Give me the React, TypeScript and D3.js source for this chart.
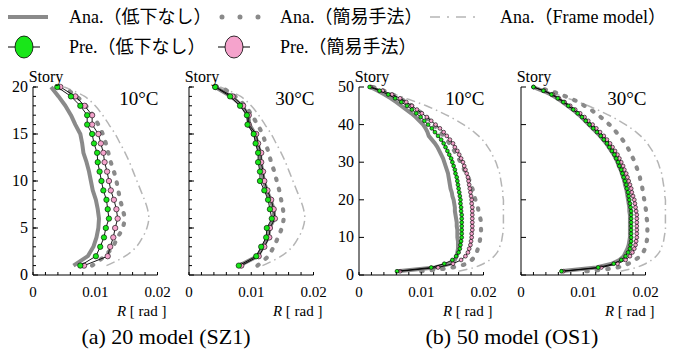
import React, {useEffect, useRef} from "react";
import * as d3 from "d3";

// story numbers
const stories20 = [1, 2, 3, 4, 5, 6, 7, 8, 9, 10, 11, 12, 13, 14, 15, 16, 17, 18, 19, 20];
const stories50 = [1, 2, 3, 4, 5, 6, 7, 8, 9, 10, 11, 12, 13, 14, 15, 16, 17, 18, 19, 20,
    21, 22, 23, 24, 25, 26, 27, 28, 29, 30, 31, 32, 33, 34, 35, 36, 37, 38, 39, 40,
    41, 42, 43, 44, 45, 46, 47, 48, 49, 50];

// ---- 20 model (SZ1) ----
const sz1FrameAna = [0.0118, 0.0148, 0.0166, 0.0176, 0.0183, 0.0186, 0.0184, 0.0179, 0.0173, 0.0167,
    0.0161, 0.0155, 0.0148, 0.0140, 0.0132, 0.0122, 0.0112, 0.0100, 0.0083, 0.0050];
// 10C
const sz1T10AnaNone = [0.0065, 0.0088, 0.0097, 0.0102, 0.0105, 0.0106, 0.0104, 0.0101, 0.0096, 0.0093,
    0.0090, 0.0086, 0.0081, 0.0079, 0.0076, 0.0068, 0.0061, 0.0052, 0.0041, 0.0029];
const sz1T10AnaSimple = [0.0095, 0.0115, 0.0128, 0.0136, 0.0144, 0.0147, 0.0144, 0.0140, 0.0137, 0.0134,
    0.0130, 0.0125, 0.0121, 0.0117, 0.0112, 0.0105, 0.0096, 0.0085, 0.0070, 0.0048];
const sz1T10PreNone = [0.0076, 0.0101, 0.0108, 0.0114, 0.0117, 0.0122, 0.0120, 0.0118, 0.0113, 0.0110,
    0.0107, 0.0104, 0.0103, 0.0098, 0.0095, 0.0087, 0.0087, 0.0076, 0.0061, 0.0039];
const sz1T10PreSimple = [0.0082, 0.0120, 0.0124, 0.0129, 0.0132, 0.0136, 0.0134, 0.0130, 0.0125, 0.0122,
    0.0119, 0.0115, 0.0113, 0.0109, 0.0105, 0.0095, 0.0095, 0.0083, 0.0068, 0.0044];
// 30C
const sz1T30AnaNone = [0.0081, 0.0110, 0.0119, 0.0127, 0.0129, 0.0137, 0.0136, 0.0131, 0.0125, 0.0120,
    0.0118, 0.0115, 0.0114, 0.0110, 0.0106, 0.0097, 0.0095, 0.0085, 0.0068, 0.0042];
const sz1T30AnaSimple = [0.0110, 0.0127, 0.0136, 0.0143, 0.0149, 0.0152, 0.0151, 0.0148, 0.0145, 0.0141,
    0.0137, 0.0132, 0.0128, 0.0123, 0.0118, 0.0110, 0.0101, 0.0090, 0.0074, 0.0052];
const sz1T30PreNone = [0.0080, 0.0108, 0.0116, 0.0124, 0.0125, 0.0133, 0.0130, 0.0127, 0.0121, 0.0114,
    0.0114, 0.0111, 0.0111, 0.0107, 0.0104, 0.0094, 0.0093, 0.0082, 0.0066, 0.0042];
const sz1T30PreSimple = [0.0084, 0.0112, 0.0121, 0.0129, 0.0130, 0.0138, 0.0136, 0.0132, 0.0126, 0.0121,
    0.0119, 0.0116, 0.0116, 0.0111, 0.0108, 0.0096, 0.0096, 0.0087, 0.0070, 0.0043];

// ---- 50 model (OS1) ----
const os1FrameAna = [0.0160, 0.0185, 0.0200, 0.0210, 0.0217, 0.0222, 0.0225, 0.0227, 0.0229, 0.0230,
    0.0231, 0.0232, 0.0232, 0.0232, 0.0232, 0.0232, 0.0232, 0.0232, 0.0232, 0.0232,
    0.0231, 0.0231, 0.0230, 0.0229, 0.0228, 0.0227, 0.0226, 0.0224, 0.0222, 0.0220,
    0.0217, 0.0214, 0.0211, 0.0207, 0.0203, 0.0198, 0.0192, 0.0185, 0.0177, 0.0168,
    0.0158, 0.0147, 0.0135, 0.0122, 0.0108, 0.0092, 0.0075, 0.0058, 0.0040, 0.0020];
// 10C
const os1T10AnaNone = [0.0062, 0.0122, 0.0146, 0.0154, 0.0157, 0.0158, 0.0159, 0.0159, 0.0159, 0.0158,
    0.0158, 0.0158, 0.0157, 0.0157, 0.0156, 0.0155, 0.0154, 0.0154, 0.0153, 0.0152,
    0.0150, 0.0149, 0.0147, 0.0146, 0.0145, 0.0144, 0.0143, 0.0141, 0.0139, 0.0137,
    0.0135, 0.0132, 0.0129, 0.0126, 0.0122, 0.0117, 0.0112, 0.0110, 0.0107, 0.0103,
    0.0097, 0.0091, 0.0084, 0.0076, 0.0068, 0.0060, 0.0051, 0.0041, 0.0030, 0.0018];
const os1T10AnaSimple = [0.0100, 0.0150, 0.0172, 0.0181, 0.0186, 0.0189, 0.0191, 0.0193, 0.0194, 0.0195,
    0.0196, 0.0196, 0.0196, 0.0196, 0.0195, 0.0194, 0.0192, 0.0191, 0.0189, 0.0187,
    0.0185, 0.0184, 0.0182, 0.0180, 0.0178, 0.0175, 0.0172, 0.0169, 0.0166, 0.0163,
    0.0160, 0.0157, 0.0153, 0.0149, 0.0145, 0.0141, 0.0136, 0.0131, 0.0126, 0.0120,
    0.0114, 0.0108, 0.0101, 0.0093, 0.0085, 0.0076, 0.0066, 0.0054, 0.0040, 0.0022];
const os1T10PreNone = [0.0061, 0.0116, 0.0137, 0.0150, 0.0156, 0.0160, 0.0162, 0.0163, 0.0164, 0.0165,
    0.0165, 0.0165, 0.0165, 0.0165, 0.0165, 0.0165, 0.0164, 0.0164, 0.0163, 0.0163,
    0.0162, 0.0161, 0.0160, 0.0159, 0.0158, 0.0157, 0.0155, 0.0154, 0.0152, 0.0150,
    0.0148, 0.0145, 0.0142, 0.0139, 0.0136, 0.0132, 0.0127, 0.0122, 0.0117, 0.0111,
    0.0105, 0.0099, 0.0092, 0.0085, 0.0077, 0.0068, 0.0058, 0.0047, 0.0033, 0.0017];
const os1T10PreSimple = [0.0066, 0.0127, 0.0151, 0.0164, 0.0171, 0.0175, 0.0177, 0.0179, 0.0180, 0.0181,
    0.0181, 0.0182, 0.0182, 0.0182, 0.0182, 0.0182, 0.0182, 0.0182, 0.0181, 0.0181,
    0.0180, 0.0179, 0.0178, 0.0177, 0.0176, 0.0175, 0.0173, 0.0171, 0.0169, 0.0167,
    0.0164, 0.0161, 0.0158, 0.0154, 0.0151, 0.0146, 0.0141, 0.0136, 0.0130, 0.0123,
    0.0116, 0.0109, 0.0101, 0.0093, 0.0085, 0.0076, 0.0066, 0.0053, 0.0038, 0.0019];
// 30C
const os1T30AnaNone = [0.0063, 0.0121, 0.0146, 0.0158, 0.0165, 0.0168, 0.0171, 0.0173, 0.0174, 0.0175,
    0.0175, 0.0175, 0.0175, 0.0175, 0.0175, 0.0175, 0.0174, 0.0174, 0.0173, 0.0172,
    0.0171, 0.0170, 0.0169, 0.0167, 0.0166, 0.0164, 0.0162, 0.0160, 0.0157, 0.0155,
    0.0152, 0.0149, 0.0145, 0.0141, 0.0137, 0.0132, 0.0127, 0.0121, 0.0115, 0.0109,
    0.0103, 0.0097, 0.0090, 0.0083, 0.0075, 0.0067, 0.0058, 0.0048, 0.0035, 0.0019];
const os1T30AnaSimple = [0.0105, 0.0155, 0.0172, 0.0183, 0.0191, 0.0196, 0.0199, 0.0201, 0.0202, 0.0203,
    0.0203, 0.0203, 0.0203, 0.0203, 0.0202, 0.0202, 0.0201, 0.0200, 0.0199, 0.0198,
    0.0197, 0.0196, 0.0195, 0.0194, 0.0192, 0.0191, 0.0189, 0.0187, 0.0185, 0.0183,
    0.0180, 0.0177, 0.0174, 0.0171, 0.0167, 0.0163, 0.0158, 0.0153, 0.0148, 0.0142,
    0.0135, 0.0128, 0.0120, 0.0112, 0.0102, 0.0092, 0.0079, 0.0064, 0.0046, 0.0024];
const os1T30PreNone = [0.0065, 0.0124, 0.0149, 0.0161, 0.0168, 0.0172, 0.0175, 0.0176, 0.0177, 0.0177,
    0.0177, 0.0177, 0.0177, 0.0177, 0.0177, 0.0177, 0.0177, 0.0176, 0.0175, 0.0174,
    0.0173, 0.0172, 0.0170, 0.0169, 0.0167, 0.0165, 0.0163, 0.0161, 0.0158, 0.0156,
    0.0153, 0.0150, 0.0146, 0.0142, 0.0138, 0.0133, 0.0128, 0.0122, 0.0116, 0.0110,
    0.0104, 0.0098, 0.0091, 0.0084, 0.0076, 0.0068, 0.0059, 0.0049, 0.0036, 0.0020];
const os1T30PreSimple = [0.0068, 0.0129, 0.0155, 0.0168, 0.0175, 0.0179, 0.0182, 0.0184, 0.0185, 0.0186,
    0.0186, 0.0186, 0.0186, 0.0186, 0.0186, 0.0186, 0.0185, 0.0184, 0.0183, 0.0182,
    0.0180, 0.0178, 0.0177, 0.0175, 0.0173, 0.0171, 0.0169, 0.0166, 0.0164, 0.0161,
    0.0158, 0.0155, 0.0151, 0.0147, 0.0143, 0.0138, 0.0133, 0.0127, 0.0121, 0.0115,
    0.0108, 0.0102, 0.0095, 0.0087, 0.0079, 0.0070, 0.0061, 0.0051, 0.0037, 0.0020];

const xTicks = [0, 0.002, 0.004, 0.006, 0.008, 0.01, 0.012, 0.014, 0.016, 0.018, 0.02];
const xTickLabels = [0, 0.01, 0.02];
const legendLabels = ["Ana.（低下なし）", "Ana.（簡易手法）", "Ana.（Frame model）", "Pre.（低下なし）", "Pre.（簡易手法）"];
const captions = ["(a) 20 model (SZ1)", "(b) 50 model (OS1)"];

const GREEN = "#19e619";
const PINK = "#f5a3cc";
const GREY = "#8a8a8a";
const LIGHT = "#b5b5b5";
const FONT = "Liberation Serif, Times New Roman, Noto Sans CJK JP, serif";

const panels = [
    {x0: 33, stories: stories20, top: 20, yMajor: [0, 5, 10, 15, 20], yMinor: stories20, yLabels: true, temp: "10°C",
        frame: sz1FrameAna, anaNone: sz1T10AnaNone, anaSimple: sz1T10AnaSimple, preNone: sz1T10PreNone, preSimple: sz1T10PreSimple, r: 2.7},
    {x0: 189, stories: stories20, top: 20, yMajor: [0, 5, 10, 15, 20], yMinor: stories20, yLabels: false, temp: "30°C",
        frame: sz1FrameAna, anaNone: sz1T30AnaNone, anaSimple: sz1T30AnaSimple, preNone: sz1T30PreNone, preSimple: sz1T30PreSimple, r: 2.7},
    {x0: 359, stories: stories50, top: 50, yMajor: [0, 10, 20, 30, 40, 50], yMinor: [], yLabels: true, temp: "10°C",
        frame: os1FrameAna, anaNone: os1T10AnaNone, anaSimple: os1T10AnaSimple, preNone: os1T10PreNone, preSimple: os1T10PreSimple, r: 1.9},
    {x0: 521, stories: stories50, top: 50, yMajor: [0, 10, 20, 30, 40, 50], yMinor: [], yLabels: false, temp: "30°C",
        frame: os1FrameAna, anaNone: os1T30AnaNone, anaSimple: os1T30AnaSimple, preNone: os1T30PreNone, preSimple: os1T30PreSimple, r: 1.9},
];

export default function App() {
    const svgRef = useRef(null);
    const width = 683;
    const height = 354;
    const plotW = 124.5;
    const yTop = 87;
    const yBot = 275;

    useEffect(() => {
        const svg = d3.select(svgRef.current);
        svg.selectAll("*").remove();

        const txt = (sel, x, y, size, anchor, s) => sel.append("text")
            .attr("x", x).attr("y", y).attr("font-size", size).attr("font-family", FONT)
            .attr("text-anchor", anchor).text(s);

        panels.forEach(p => {
            const xScale = d3.scaleLinear().domain([0, 0.02]).range([p.x0, p.x0 + plotW]);
            const yScale = d3.scaleLinear().domain([0, p.top]).range([yBot, yTop]);
            const g = svg.append("g");
            const pts = vals => vals.map((v, i) => [v, p.stories[i]]);
            const line = d3.line().x(d => xScale(d[0])).y(d => yScale(d[1]));
            const smooth = d3.line().x(d => xScale(d[0])).y(d => yScale(d[1])).curve(d3.curveCatmullRom);

            // analysis lines
            g.append("path").attr("d", smooth(pts(p.frame))).attr("fill", "none")
                .attr("stroke", LIGHT).attr("stroke-width", 1.5).attr("stroke-dasharray", "9 4 1.5 4");
            g.append("path").attr("d", smooth(pts(p.anaSimple))).attr("fill", "none")
                .attr("stroke", GREY).attr("stroke-width", 4.2).attr("stroke-linecap", "round")
                .attr("stroke-dasharray", "1.5 9");
            g.append("path").attr("d", line(pts(p.anaNone))).attr("fill", "none")
                .attr("stroke", GREY).attr("stroke-width", 4).attr("stroke-linejoin", "round");

            // predicted (pink under green)
            [[p.preSimple, PINK], [p.preNone, GREEN]].forEach(([vals, col]) => {
                g.append("path").attr("d", line(pts(vals))).attr("fill", "none")
                    .attr("stroke", "#000").attr("stroke-width", 0.9);
                g.selectAll(null).data(pts(vals)).enter().append("circle")
                    .attr("cx", d => xScale(d[0])).attr("cy", d => yScale(d[1])).attr("r", p.r)
                    .attr("fill", col).attr("stroke", "#000").attr("stroke-width", 0.6);
            });

            // axes
            g.append("line").attr("x1", p.x0).attr("x2", p.x0).attr("y1", yBot).attr("y2", yTop).attr("stroke", "#000");
            g.append("line").attr("x1", p.x0).attr("x2", p.x0 + plotW).attr("y1", yBot).attr("y2", yBot).attr("stroke", "#000");
            p.yMinor.forEach(s => {
                g.append("line").attr("x1", p.x0).attr("x2", p.x0 + 3).attr("y1", yScale(s)).attr("y2", yScale(s)).attr("stroke", "#000");
            });
            p.yMajor.forEach(s => {
                g.append("line").attr("x1", p.x0).attr("x2", p.x0 + 5).attr("y1", yScale(s)).attr("y2", yScale(s)).attr("stroke", "#000");
                if (p.yLabels) txt(g, p.x0 - 5, yScale(s) + 5, 16, "end", s);
            });
            xTicks.forEach(t => {
                g.append("line").attr("x1", xScale(t)).attr("x2", xScale(t)).attr("y1", yBot).attr("y2", yBot - 3).attr("stroke", "#000");
            });
            xTickLabels.forEach(t => txt(g, xScale(t), 297, 15, "middle", t));
            const rl = txt(g, p.x0 + plotW + 9, 316, 15, "end", "");
            rl.append("tspan").attr("font-style", "italic").text("R");
            rl.append("tspan").text("\u00a0[\u00a0rad\u00a0]");

            txt(g, p.x0 + 13, 82, 16, "middle", "Story");
            txt(g, p.x0 + plotW + 1, 105, 19, "end", p.temp);
        });

        // legend
        const lg = svg.append("g");
        lg.append("line").attr("x1", 8).attr("x2", 48).attr("y1", 17).attr("y2", 17).attr("stroke", GREY).attr("stroke-width", 4);
        lg.append("line").attr("x1", 222).attr("x2", 262).attr("y1", 17).attr("y2", 17).attr("stroke", GREY)
            .attr("stroke-width", 5).attr("stroke-linecap", "round").attr("stroke-dasharray", "0 18");
        lg.append("line").attr("x1", 430).attr("x2", 480).attr("y1", 17).attr("y2", 17).attr("stroke", LIGHT)
            .attr("stroke-width", 1.5).attr("stroke-dasharray", "10 7 2 7");
        [[24, GREEN], [234, PINK]].forEach(([cx, col]) => {
            lg.append("line").attr("x1", cx - 16).attr("x2", cx + 16).attr("y1", 47).attr("y2", 47).attr("stroke", "#000");
            lg.append("ellipse").attr("cx", cx).attr("cy", 47).attr("rx", 9).attr("ry", 11)
                .attr("fill", col).attr("stroke", "#000").attr("stroke-width", 0.8);
        });
        const legendPos = [[69, 23], [280, 23], [500, 23], [69, 53], [280, 53]];
        legendLabels.forEach((t, i) => txt(lg, legendPos[i][0], legendPos[i][1], 18, "start", t));

        // captions
        [166, 512].forEach((cx, i) => txt(svg, cx, 344, 22, "middle", captions[i]));
    }, []);

    return <svg ref={svgRef} width={width} height={height}
                style={{position: "absolute", left: 0, top: 0, background: "#fff"}}/>;
}
